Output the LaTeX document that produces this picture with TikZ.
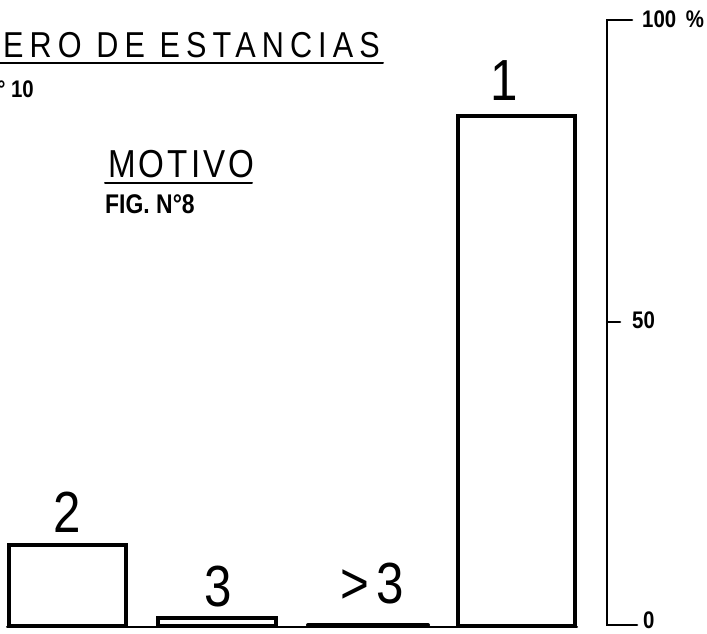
\documentclass[tikz,border=0pt]{standalone}
\usepackage{fontspec}
\setmainfont{Liberation Sans}
\newfontfamily\lettering[FakeStretch=0.85,LetterSpace=12]{Liberation Sans}
\newfontfamily\stencil[FakeStretch=0.85]{Liberation Sans}
\usetikzlibrary{positioning}

\tikzset{
  bar/.style={draw, line width=3.5pt},
  axisline/.style={line width=2.5pt},
  barlabel/.style={inner sep=0pt, anchor=base, font=\lettering\fontsize{58}{58}\selectfont},
  scalelabel/.style={inner sep=0pt, anchor=west, font=\stencil\bfseries\fontsize{24}{24}\selectfont},
}

\begin{document}
\begin{tikzpicture}[x=1pt, y=-1pt, line cap=round]
\useasboundingbox (0,0) rectangle (707,634);
\clip (0,0) rectangle (707,634);

% titles
\node (title) [inner sep=0pt, anchor=base east, font=\lettering\addfontfeature{LetterSpace=17}\fontsize{36}{36}\selectfont] at (380,58) {MERO DE ESTANCIAS};
\draw[line width=2pt] (0,63) -- (383,63);
\node (figA) [inner sep=0pt, anchor=base east, font=\stencil\bfseries\fontsize{24}{24}\selectfont] at (34,97) {° 10};

\node (motivo) [inner sep=0pt, anchor=base west, font=\lettering\addfontfeature{LetterSpace=8}\fontsize{39}{39}\selectfont] at (108,177) {MOTIVO};
\draw[line width=2pt] (105,183) -- (252,183);
\node (figB) [inner sep=0pt, anchor=base west, font=\stencil\bfseries\fontsize{27}{27}\selectfont] at (105,213) {FIG. N°8};

% -------------------------------

\draw[line width=2pt] (7,627) -- (577,627);

\draw[bar] (9,545) rectangle (126,626);
\draw[bar] (158,618) rectangle (276,626);
\draw[line width=4pt] (308,625) -- (428,625);
\draw[bar] (458,116) rectangle (575,626);

\node (two) [barlabel] at (67,532) {2};
\node (three) [barlabel] at (218,606) {3};
\node (more) [barlabel] at (372,603) {>3};
\node (one) [barlabel] at (504,100) {1};

% -------------------------------

\draw[axisline] (632,20) -- (607,20) -- (607,625) -- (637,625);
\draw[axisline] (607,322) -- (620,322);

\node (top) [scalelabel] at (642,19) {100\hspace{4pt} \%};
\node (mid) [scalelabel] at (632,320) {50};
\node (zero) [scalelabel] at (643,620) {0};
\end{tikzpicture}
\end{document}
